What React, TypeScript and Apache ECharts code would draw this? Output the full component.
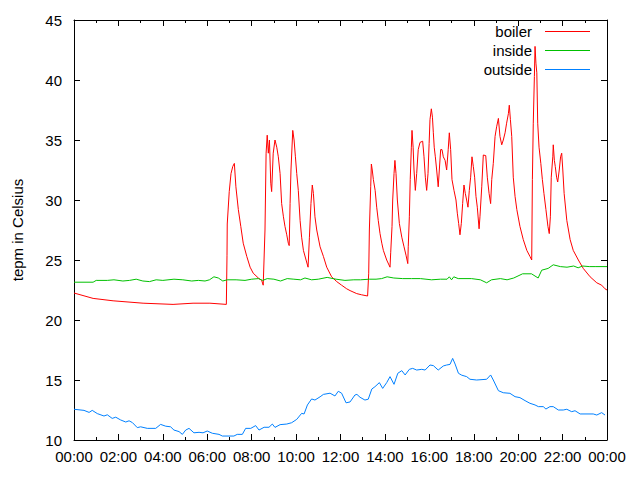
import React, { useEffect, useRef } from "react";
import * as echarts from "echarts";

const seriesNames = ["boiler", "inside", "outside"];
const seriesColors = ["#ff0000", "#00c000", "#0080ff"];
const xTickLabels = ["00:00", "02:00", "04:00", "06:00", "08:00", "10:00", "12:00", "14:00", "16:00", "18:00", "20:00", "22:00", "00:00"];

// [hour of day, temperature]
const boiler: number[][] = [
  [0, 22.25], [0.86, 21.8], [1.76, 21.6], [3.11, 21.4], [4.46, 21.3], [5.36, 21.4], [6.12, 21.4], [6.86, 21.3],
  [6.89, 25.4], [6.9, 28.0], [6.99, 30.7], [7.07, 32.2], [7.15, 32.8], [7.22, 33.05], [7.29, 31.1], [7.4, 29.2],
  [7.51, 27.8], [7.62, 26.4], [7.78, 25.3], [7.93, 24.4], [8.07, 23.9], [8.3, 23.5], [8.45, 23.3], [8.52, 22.9],
  [8.6, 27.5], [8.65, 33.9], [8.7, 35.4], [8.75, 33.9], [8.8, 35.0], [8.86, 31.4], [8.9, 30.7], [8.97, 33.9],
  [9.05, 35.0], [9.13, 34.4], [9.2, 33.6], [9.28, 32.2], [9.35, 29.7], [9.43, 28.6], [9.5, 27.8], [9.58, 27.1],
  [9.65, 26.4], [9.69, 26.2], [9.73, 29.7], [9.77, 32.5], [9.85, 35.8], [9.91, 35.0], [9.97, 33.6], [10.03, 32.2],
  [10.1, 30.8], [10.18, 28.3], [10.25, 26.9], [10.33, 25.8], [10.45, 25.0], [10.54, 24.4], [10.6, 26.9], [10.67, 29.7],
  [10.73, 31.25], [10.78, 30.55], [10.85, 28.6], [10.93, 27.5], [11.08, 26.1], [11.23, 25.3], [11.38, 24.4], [11.6, 23.6],
  [11.83, 23.2], [12.05, 22.9], [12.28, 22.6], [12.43, 22.45], [12.73, 22.2], [12.95, 22.1], [13.22, 22.0], [13.27, 23.9],
  [13.3, 27.5], [13.36, 31.1], [13.39, 33.0], [13.43, 32.5], [13.48, 31.7], [13.56, 30.8], [13.63, 29.4], [13.7, 28.3],
  [13.78, 27.2], [13.86, 26.4], [13.93, 25.8], [14.08, 25.0], [14.23, 24.4], [14.26, 25.6], [14.32, 27.8], [14.35, 30.0],
  [14.41, 32.2], [14.45, 33.3], [14.5, 32.2], [14.56, 30.0], [14.65, 28.05], [14.76, 26.9], [14.86, 26.1], [14.95, 25.4],
  [15.03, 24.7], [15.05, 26.1], [15.1, 28.6], [15.14, 31.7], [15.19, 34.4], [15.22, 35.8], [15.27, 34.4], [15.31, 32.5],
  [15.37, 30.8], [15.43, 32.2], [15.5, 34.2], [15.58, 34.8], [15.7, 34.9], [15.76, 33.6], [15.82, 31.9], [15.88, 30.8],
  [15.94, 32.2], [15.99, 34.7], [16.03, 36.7], [16.09, 37.6], [16.14, 36.9], [16.18, 35.6], [16.22, 34.4], [16.27, 33.6],
  [16.33, 32.5], [16.4, 31.1], [16.45, 32.5], [16.51, 34.2], [16.57, 34.2], [16.63, 33.6], [16.71, 33.3], [16.78, 32.5],
  [16.85, 34.2], [16.9, 35.6], [16.96, 34.2], [17.02, 31.7], [17.11, 30.8], [17.2, 30.0], [17.26, 28.9], [17.32, 28.05],
  [17.38, 27.1], [17.44, 28.05], [17.5, 29.7], [17.56, 31.25], [17.62, 30.55], [17.68, 30.0], [17.74, 29.4], [17.8, 30.8],
  [17.86, 31.9], [17.92, 33.6], [17.98, 32.8], [18.04, 31.9], [18.1, 30.3], [18.16, 29.4], [18.24, 27.6], [18.28, 28.6],
  [18.36, 31.1], [18.43, 33.75], [18.54, 33.7], [18.61, 31.9], [18.69, 30.55], [18.76, 29.7], [18.81, 31.7], [18.88, 33.05],
  [18.96, 35.3], [19.03, 36.1], [19.11, 36.8], [19.18, 35.3], [19.26, 34.6], [19.33, 35.0], [19.41, 35.6], [19.48, 36.4],
  [19.56, 37.2], [19.6, 37.9], [19.65, 36.7], [19.71, 35.3], [19.78, 31.9], [19.86, 30.3], [19.94, 29.2], [20.08, 27.8],
  [20.23, 26.7], [20.39, 25.8], [20.53, 25.3], [20.61, 25.0], [20.64, 31.7], [20.68, 36.4], [20.73, 40.3], [20.76, 42.8],
  [20.8, 41.4], [20.84, 40.6], [20.88, 36.4], [20.94, 34.4], [21.02, 33.05], [21.09, 31.7], [21.16, 30.55], [21.25, 29.2],
  [21.34, 27.8], [21.4, 27.2], [21.45, 28.6], [21.49, 31.9], [21.56, 33.6], [21.58, 34.6], [21.63, 33.3], [21.67, 32.8],
  [21.73, 31.9], [21.78, 31.5], [21.85, 32.5], [21.91, 33.6], [21.96, 33.9], [22.01, 32.5], [22.07, 30.55], [22.19, 28.3],
  [22.34, 26.7], [22.48, 25.8], [22.71, 25.0], [22.93, 24.3], [23.24, 23.6], [23.54, 23.1], [23.76, 22.9], [23.91, 22.6],
  [24.0, 22.5],
];

const inside: number[][] = [
  [0, 23.15], [0.86, 23.15], [1.0, 23.3], [1.5, 23.3], [1.8, 23.35], [2.2, 23.25], [2.5, 23.3], [2.8, 23.4],
  [3.1, 23.25], [3.4, 23.2], [3.7, 23.35], [4.0, 23.3], [4.5, 23.4], [4.9, 23.35], [5.3, 23.25], [5.6, 23.3],
  [5.9, 23.25], [6.1, 23.35], [6.3, 23.6], [6.5, 23.5], [6.7, 23.25], [6.9, 23.35], [7.3, 23.35], [7.7, 23.3],
  [8.0, 23.4], [8.3, 23.45], [8.5, 23.3], [8.7, 23.45], [9.0, 23.4], [9.3, 23.25], [9.6, 23.45], [9.9, 23.4],
  [10.2, 23.35], [10.4, 23.5], [10.7, 23.35], [11.0, 23.4], [11.4, 23.55], [11.8, 23.4], [12.2, 23.3], [12.6, 23.35],
  [12.9, 23.35], [13.3, 23.4], [13.6, 23.4], [13.85, 23.45], [14.1, 23.6], [14.4, 23.5], [14.8, 23.45], [15.2, 23.45],
  [15.6, 23.45], [16.1, 23.35], [16.5, 23.4], [16.8, 23.4], [16.9, 23.6], [17.0, 23.35], [17.1, 23.6], [17.3, 23.45],
  [17.9, 23.45], [18.3, 23.35], [18.58, 23.1], [18.8, 23.35], [19.2, 23.45], [19.5, 23.35], [19.8, 23.5], [20.2, 23.85],
  [20.6, 23.85], [20.9, 23.5], [21.06, 24.15], [21.35, 24.3], [21.58, 24.6], [21.9, 24.45], [22.2, 24.4], [22.5, 24.5],
  [22.7, 24.35], [22.9, 24.5], [23.2, 24.45], [23.5, 24.45], [24.0, 24.45],
];

const outside: number[][] = [
  [0, 12.56], [0.45, 12.47], [0.68, 12.3], [0.82, 12.47], [1.05, 12.2], [1.35, 12.0], [1.5, 12.1], [1.72, 11.8],
  [1.88, 11.9], [2.1, 11.67], [2.33, 11.5], [2.48, 11.6], [2.63, 11.45], [2.85, 11.03], [3.0, 11.1], [3.3, 10.97],
  [3.68, 10.97], [3.9, 11.3], [4.13, 11.15], [4.35, 11.1], [4.5, 10.83], [4.73, 10.7], [4.88, 10.47], [5.03, 10.83],
  [5.18, 10.97], [5.4, 10.6], [5.63, 10.64], [5.81, 10.6], [6.0, 10.75], [6.23, 10.56], [6.53, 10.47], [6.68, 10.33],
  [7.2, 10.33], [7.35, 10.47], [7.58, 10.47], [7.73, 10.97], [7.96, 10.97], [8.18, 11.2], [8.33, 10.83], [8.56, 11.06],
  [8.78, 11.06], [8.93, 11.33], [9.05, 11.05], [9.28, 11.28], [9.58, 11.33], [9.8, 11.44], [10.03, 11.72], [10.25, 12.22],
  [10.36, 12.17], [10.51, 12.92], [10.7, 13.42], [10.85, 13.33], [11.08, 13.6], [11.23, 13.8], [11.53, 13.9], [11.75, 13.67],
  [11.9, 14.06], [12.05, 13.9], [12.25, 13.1], [12.43, 13.17], [12.65, 13.75], [12.74, 13.8], [12.88, 13.56], [13.1, 13.33],
  [13.25, 13.4], [13.41, 14.25], [13.55, 14.44], [13.75, 14.78], [13.9, 14.3], [14.08, 14.78], [14.23, 15.28], [14.41, 14.64],
  [14.58, 15.56], [14.76, 15.78], [14.91, 15.42], [15.1, 15.89], [15.25, 15.97], [15.43, 15.83], [15.66, 15.89], [15.81, 15.83],
  [16.03, 16.25], [16.18, 16.2], [16.4, 15.83], [16.63, 16.17], [16.78, 16.25], [16.93, 16.3], [17.05, 16.8], [17.16, 16.33],
  [17.31, 15.56], [17.46, 15.4], [17.68, 15.28], [17.83, 15.06], [18.13, 15.0], [18.58, 15.06], [18.76, 15.42], [18.88, 15.0],
  [19.11, 14.11], [19.33, 13.94], [19.63, 13.89], [19.86, 13.61], [20.08, 13.53], [20.31, 13.28], [20.53, 13.06], [20.76, 12.92],
  [20.91, 12.78], [21.13, 12.78], [21.25, 12.58], [21.43, 12.78], [21.58, 12.78], [21.81, 12.5], [22.03, 12.5], [22.19, 12.56],
  [22.41, 12.36], [22.56, 12.44], [22.79, 12.17], [23.38, 12.17], [23.54, 12.08], [23.76, 12.28], [23.91, 12.08],
];

const seriesData = [boiler, inside, outside];

export default function App() {
  const ref = useRef<HTMLDivElement>(null);
  useEffect(() => {
    if (!ref.current) return;
    const chart = echarts.init(ref.current, null, { renderer: "svg" });
    const font = "Liberation Sans";
    const axisCommon = {
      type: "value" as const,
      axisLine: { show: true, onZero: false, lineStyle: { color: "#000", width: 1 } },
      splitLine: { show: false },
    };
    chart.setOption({
      animation: false,
      backgroundColor: "#fff",
      textStyle: { fontFamily: font },
      grid: { left: 74, right: 33, top: 20, bottom: 40, containLabel: false },
      xAxis: [
        {
          ...axisCommon,
          min: 0,
          max: 24,
          interval: 2,
          position: "bottom",
          axisTick: { show: true, inside: true, length: 6, lineStyle: { color: "#000" } },
          minorTick: { show: true, splitNumber: 2, length: 3, lineStyle: { color: "#000" } },
          axisLabel: {
            color: "#000",
            fontSize: 15,
            margin: 9,
            fontFamily: font,
            formatter: (v: number) => xTickLabels[Math.round(v / 2)] ?? "",
          },
        },
        {
          ...axisCommon,
          min: 0,
          max: 24,
          interval: 2,
          position: "top",
          axisTick: { show: true, inside: true, length: 6, lineStyle: { color: "#000" } },
          minorTick: { show: true, splitNumber: 2, length: 3, lineStyle: { color: "#000" } },
          axisLabel: { show: false },
        },
      ],
      yAxis: [
        {
          ...axisCommon,
          min: 10,
          max: 45,
          interval: 5,
          position: "left",
          name: "tepm in Celsius",
          nameLocation: "middle",
          nameGap: 49,
          nameTextStyle: { color: "#000", fontSize: 15, fontFamily: font },
          axisTick: { show: true, inside: true, length: 6, lineStyle: { color: "#000" } },
          axisLabel: { color: "#000", fontSize: 15, margin: 12, fontFamily: font },
        },
        {
          ...axisCommon,
          min: 10,
          max: 45,
          interval: 5,
          position: "right",
          axisTick: { show: true, inside: true, length: 6, lineStyle: { color: "#000" } },
          axisLabel: { show: false },
        },
      ],
      legend: seriesNames.map((n, i) => ({
        data: [{ name: n, itemStyle: { color: seriesColors[i] } }],
        right: 50,
        top: 24 + i * 19,
        orient: "vertical",
        align: "right",
        icon: "rect",
        itemWidth: 45,
        itemHeight: 1,
        padding: 0,
        selectedMode: false,
        textStyle: { color: "#000", fontSize: 15, fontFamily: font, padding: [0, 8, 0, 0] },
      })),
      series: seriesNames.map((n, i) => ({
        name: n,
        type: "line",
        data: seriesData[i],
        symbol: "none",
        showSymbol: false,
        smooth: false,
        color: seriesColors[i],
        itemStyle: { color: seriesColors[i] },
        lineStyle: { color: seriesColors[i], width: 1 },
        xAxisIndex: 0,
        yAxisIndex: 0,
      })),
    });
    return () => chart.dispose();
  }, []);
  return <div ref={ref} style={{ width: 640, height: 480, position: "absolute", left: 0, top: 0 }} />;
}
